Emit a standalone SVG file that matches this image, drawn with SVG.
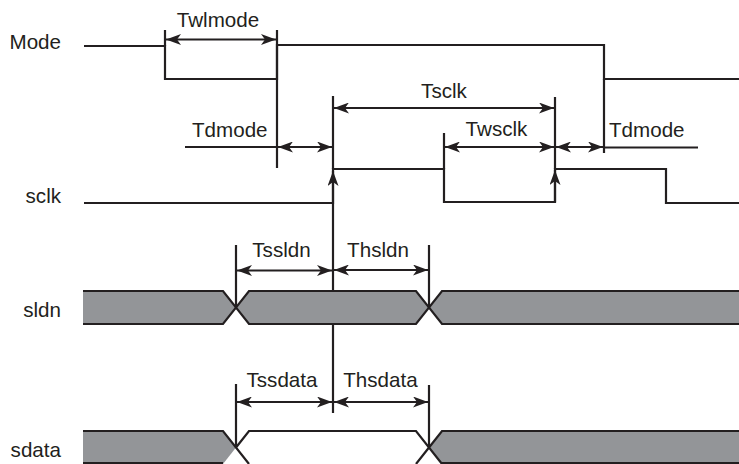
<svg xmlns="http://www.w3.org/2000/svg" width="739" height="464" viewBox="0 0 739 464">
<style>
.s{fill:none;stroke:#231f20;stroke-width:2.2}
.a{fill:none;stroke:#231f20;stroke-width:2.2;marker-end:url(#ah)}
.d{fill:none;stroke:#231f20;stroke-width:2.2;marker-start:url(#ah);marker-end:url(#ah)}
.g{fill:#939598;stroke:none}
text{font-family:"Liberation Sans",Arial,sans-serif;font-size:20.6px;fill:#231f20}
.e{text-anchor:end}
.m{text-anchor:middle}
</style>
<defs>
<marker id="ah" viewBox="0 0 15 11" refX="15" refY="5.5" markerWidth="15" markerHeight="11" markerUnits="userSpaceOnUse" orient="auto-start-reverse">
<path d="M0,0 L15,5.5 L0,11 L4,5.5 z" fill="#231f20"/>
</marker>
</defs>
<g id="labels">
<text class="e" x="61" y="49">Mode</text>
<text class="e" x="61" y="203">sclk</text>
<text class="e" x="61" y="317">sldn</text>
<text class="e" x="61" y="457">sdata</text>
</g>
<g id="connectors">
<line class="a" x1="333" y1="413" x2="333" y2="171"/>
<line class="a" x1="555" y1="202" x2="555" y2="170"/>
</g>
<g id="mode">
<path class="s" d="M84,46 H165 V79 H277 V45 H604 V79 H739"/>
<path class="s" d="M165,30 V46 M277,30 V168 M604,79 V153"/>
</g>
<g id="sclk">
<path class="s" d="M84,203 H333 V169 H444 V202 H555 V169 H666 V203 H739"/>
<path class="s" d="M333,96 V169 M444,133 V169 M555,97 V169"/>
</g>
<g id="sldn">
<polygon class="g" points="83,291 223,291 236,307.5 223,324 83,324"/>
<polygon class="g" points="249,291 416,291 429,307.5 416,324 249,324 236,307.5"/>
<polygon class="g" points="442,291 739,291 739,324 442,324 429,307.5"/>
<path class="s" d="M83,291 H223 L249,324 H416 L442,291 H739 M83,324 H223 L249,291 H416 L442,324 H739"/>
<path class="s" d="M236,245 V307.5 M429,245 V307.5"/>
</g>
<g id="sdata">
<polygon class="g" points="83,431 223,431 236,447.5 223,464 83,464"/>
<polygon class="g" points="442,431 739,431 739,464 442,464 429,447.5"/>
<path class="s" d="M83,431 H223 L249,464 M236,447.5 L249,431 H416 L442,464 M429,447.5 L442,431 H739 M83,463 H223 M442,463 H739 M416,464 L429,447.5"/>
<path class="s" d="M236,384 V447.5 M429,385 V447.5"/>
</g>
<g id="timing">
<line class="d" x1="166" y1="39.5" x2="276" y2="39.5"/>
<text class="m" x="218" y="27">Twlmode</text>
<line class="s" x1="185" y1="147" x2="277" y2="147"/>
<line class="d" x1="278" y1="147" x2="332" y2="147"/>
<text x="192" y="137">Tdmode</text>
<line class="d" x1="334" y1="108" x2="554" y2="108"/>
<text class="m" x="444" y="98">Tsclk</text>
<line class="d" x1="445" y1="147" x2="554" y2="147"/>
<text class="m" x="496.5" y="136">Twsclk</text>
<line class="d" x1="556" y1="147" x2="603" y2="147"/>
<line class="s" x1="604" y1="147.5" x2="698" y2="147.5"/>
<text x="609" y="137">Tdmode</text>
<line class="d" x1="237" y1="270.5" x2="332" y2="270.5"/>
<text class="m" x="281.5" y="257">Tssldn</text>
<line class="d" x1="334" y1="270" x2="428" y2="270"/>
<text class="m" x="378" y="257">Thsldn</text>
<line class="d" x1="237" y1="402" x2="332" y2="402"/>
<text class="m" x="282" y="387">Tssdata</text>
<line class="d" x1="334" y1="402" x2="428" y2="402"/>
<text class="m" x="380.5" y="387">Thsdata</text>
</g>
</svg>
